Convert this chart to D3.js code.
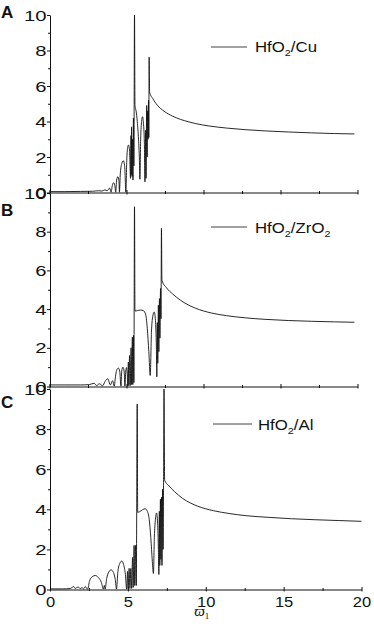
<!DOCTYPE html>
<html>
<head>
<meta charset="utf-8">
<script src="https://cdn.jsdelivr.net/npm/d3@7/dist/d3.min.js"></script>
<style>
  html, body { margin: 0; padding: 0; background: #fff; }
  svg { display: block; }
  text { font-family: "Liberation Sans", Arial, Helvetica, sans-serif; fill: #111; }
</style>
</head>
<body>
<svg id="chart" width="374" height="627"></svg>
<script>
// ---- data ----
const xTicks = [0, 5, 10, 15, 20];
const xMinorTicks = [2.5, 7.5, 12.5, 17.5];
const yTicks = [0, 2, 4, 6, 8, 10];
const yMinorTicks = [1, 3, 5, 7, 9];
const panelLetters = ["A", "B", "C"];
const legendNames = [["HfO", "2", "/Cu", ""], ["HfO", "2", "/ZrO", "2"], ["HfO", "2", "/Al", ""]];
const xAxisLabel = ["\u03D6", "1"];

const seriesA = [
  [0,0.05],[1,0.05],[2,0.06],[2.8,0.07],[3.2,0.1],[3.4,0.08],[3.6,0.15],[3.75,0.1],[3.9,0.25],[4.0,0.02],
  [4.08,0.4],[4.16,0.55],[4.24,0.4],[4.3,0.02],
  [4.36,0.7],[4.44,0.89],[4.51,0.65],[4.54,0.02],
  [4.6,1.1],[4.7,1.65],[4.79,1.79],[4.88,1.5],[4.96,0.02],
  [5.02,1.9],[5.08,2.55],[5.13,2.68],[5.2,2.3],[5.26,0.8],
  [5.29,3.2],[5.31,1.0],[5.33,3.7],[5.36,0.9],[5.39,3.0],[5.42,0.7],[5.45,4.2],[5.48,1.5],[5.52,10],[5.55,4.9],
  [5.62,4.6],[5.7,4.0],[5.78,3.0],[5.84,1.8],[5.87,0.75],
  [5.92,3.0],[5.98,4.0],[6.04,4.27],[6.1,3.9],[6.16,2.8],[6.2,0.6],
  [6.24,3.5],[6.27,0.8],[6.31,4.9],[6.34,2.0],[6.37,4.6],[6.4,3.0],[6.43,5.2],[6.45,3.1],[6.47,7.62],[6.5,5.65],
  [6.7,5.3],[7.0,4.92],[7.44,4.58],[8.0,4.3],[8.5,4.12],[9.0,3.99],[9.5,3.88],[10.35,3.75],
  [11.5,3.63],[12.7,3.54],[14.0,3.47],[15.5,3.41],[17.0,3.36],[18.5,3.32],[19.8,3.3]
];

const seriesB = [
  [0,0.08],[1,0.08],[2,0.08],[2.6,0.1],[2.9,0.17],[3.05,0.05],[3.24,0.14],[3.45,0.04],[3.6,0.25],[3.78,0.4],[3.95,0.08],[4.1,0.3],[4.2,0.02],
  [4.3,0.6],[4.38,0.88],[4.47,0.95],[4.56,0.8],[4.64,0.02],
  [4.69,0.8],[4.77,1.0],[4.85,0.75],[4.9,0.02],
  [4.95,0.8],[5.0,0.98],[5.05,0.6],[5.08,0.02],
  [5.12,1.26],[5.15,0.05],[5.2,1.6],[5.24,0.05],[5.3,2.0],[5.33,0.1],[5.38,2.55],[5.41,0.1],[5.45,2.64],[5.48,0.2],[5.52,9.29],[5.55,3.9],
  [5.7,3.92],[5.9,3.95],[6.1,3.92],[6.25,3.7],[6.35,3.0],[6.45,1.8],[6.54,0.57],
  [6.62,2.8],[6.7,3.6],[6.8,3.85],[6.88,3.4],[6.94,2.0],[6.97,0.5],
  [7.0,3.3],[7.03,1.2],[7.07,4.2],[7.1,1.8],[7.14,4.54],[7.17,2.5],[7.21,5.07],[7.24,3.5],[7.27,8.17],[7.3,5.49],
  [7.6,5.1],[8.0,4.78],[8.5,4.46],[9.0,4.22],[9.5,4.04],[10.5,3.8],[11.5,3.66],[12.7,3.55],
  [14.0,3.47],[15.5,3.41],[17.0,3.37],[18.5,3.34],[19.8,3.32]
];

const seriesC = [
  [0,0.03],[0.8,0.03],[1.3,0.05],[1.42,0.1],[1.51,0.15],[1.62,0.05],[1.72,0.1],[1.83,0.12],[1.94,0.04],[2.05,0.1],[2.15,0.03],[2.26,0.15],[2.35,0.05],[2.41,0.02],
  [2.55,0.45],[2.7,0.63],[2.91,0.7],[3.1,0.6],[3.3,0.35],[3.42,0.02],
  [3.49,0.2],[3.54,0.02],
  [3.64,0.55],[3.78,0.88],[3.92,0.98],[4.07,0.85],[4.19,0.5],[4.27,0.02],
  [4.36,0.9],[4.48,1.3],[4.6,1.42],[4.72,1.25],[4.84,0.75],[4.92,0.02],
  [4.98,0.9],[5.02,0.05],[5.08,1.05],[5.13,0.05],[5.19,1.05],[5.24,0.05],[5.3,1.6],[5.34,0.1],[5.4,2.2],[5.44,0.2],[5.5,2.2],[5.54,0.2],[5.6,9.25],[5.63,3.85],
  [5.75,3.88],[5.95,3.98],[6.1,4.03],[6.25,3.9],[6.37,3.5],[6.47,2.6],[6.57,1.4],[6.64,0.8],
  [6.7,2.6],[6.77,3.5],[6.84,3.82],[6.91,3.3],[6.96,2.0],[6.99,0.75],
  [7.02,3.9],[7.05,1.2],[7.09,4.5],[7.12,1.5],[7.16,4.6],[7.19,1.2],[7.23,5.0],[7.26,2.0],[7.29,5.2],[7.32,10],[7.36,5.45],
  [7.6,5.2],[8.0,4.88],[8.5,4.55],[9.0,4.32],[9.5,4.15],[10.5,3.93],[11.5,3.79],[12.6,3.68],
  [14.0,3.6],[15.5,3.53],[17.0,3.48],[18.5,3.44],[20.0,3.4]
];

const seriesList = [seriesA, seriesB, seriesC];

// ---- layout ----
const layout = [
  { top: 15,  bottom: 192.5, xr: [49.5, 357.5], letterY: 18,  lx: [211, 247], ly: 47,  tx: 255, tBase: 52 },
  { top: 193, bottom: 386.5, xr: [49.5, 357.5], letterY: 216, lx: [211, 247], ly: 227, tx: 255, tBase: 233 },
  { top: 389, bottom: 589.5, xr: [50, 361.5],   letterY: 408, lx: [213, 252], ly: 424, tx: 258, tBase: 430 }
];

const svg = d3.select("#chart");
const ink = "#111";

layout.forEach((L, i) => {
  const x = d3.scaleLinear().domain([0, 20]).range(L.xr);
  const y = d3.scaleLinear().domain([0, 10]).range([L.bottom, L.top]);
  const g = svg.append("g");
  const x0 = 50;

  // curve
  const line = d3.line().x(d => x(d[0])).y(d => y(d[1])).curve(d3.curveMonotoneX);
  g.append("path").datum(seriesList[i]).attr("d", line)
    .attr("fill", "none").attr("stroke", ink).attr("stroke-width", 0.9).attr("stroke-linejoin", "round");

  // left axis
  const ya = g.append("g").attr("transform", `translate(${x0},0)`)
    .call(d3.axisLeft(y).tickValues(yTicks).tickSize(3).tickSizeOuter(0).tickPadding(0.5));
  ya.select(".domain").attr("stroke", ink);
  ya.selectAll(".tick line").attr("stroke", ink);
  ya.selectAll(".tick text").each(function () {
    const t = d3.select(this);
    const tx = +t.attr("x");
    t.attr("x", 0).attr("dy", "0.36em").attr("transform", `translate(${tx},0) scale(1.45,1)`)
      .style("font-size", "14px").attr("fill", ink);
  });
  const yam = g.append("g").attr("transform", `translate(${x0},0)`)
    .call(d3.axisLeft(y).tickValues(yMinorTicks).tickSize(2).tickSizeOuter(0).tickFormat(() => ""));
  yam.select(".domain").remove();
  yam.selectAll(".tick line").attr("stroke", ink);

  // bottom axis
  const xa = g.append("g").attr("transform", `translate(0,${L.bottom})`)
    .call(d3.axisBottom(x).tickValues(xTicks).tickSize(2).tickSizeOuter(0).tickPadding(3)
      .tickFormat(i === 2 ? d3.format("d") : () => ""));
  xa.select(".domain").attr("stroke", ink);
  xa.selectAll(".tick line").attr("stroke", ink).attr("y1", -2.5).attr("y2", 2);
  xa.selectAll(".tick text").each(function () {
    const t = d3.select(this);
    t.attr("y", 0).attr("dy", 0).attr("transform", `translate(0,17.5) scale(1.1,1)`)
      .style("font-size", "15px").attr("fill", ink);
  });
  const xam = g.append("g").attr("transform", `translate(0,${L.bottom})`)
    .call(d3.axisBottom(x).tickValues(xMinorTicks).tickSize(1.5).tickSizeOuter(0).tickFormat(() => ""));
  xam.select(".domain").remove();
  xam.selectAll(".tick line").attr("stroke", ink).attr("y1", -1.5).attr("y2", 1.5);

  // panel letter
  g.append("text").attr("x", 1).attr("y", L.letterY).text(panelLetters[i])
    .style("font-size", "17px").style("font-weight", "bold");

  // legend
  g.append("line").attr("x1", L.lx[0]).attr("x2", L.lx[1]).attr("y1", L.ly).attr("y2", L.ly)
    .attr("stroke", ink).attr("stroke-width", 0.8);
  const parts = legendNames[i];
  const lt = g.append("text").attr("transform", `translate(${L.tx},${L.tBase}) scale(1.2,1)`)
    .style("font-size", "14px");
  lt.append("tspan").text(parts[0]);
  lt.append("tspan").text(parts[1]).attr("dy", 4).style("font-size", "9px");
  lt.append("tspan").text(parts[2]).attr("dy", -4).style("font-size", "14px");
  if (parts[3]) lt.append("tspan").text(parts[3]).attr("dy", 4).style("font-size", "9px");

  // x-axis title on bottom panel
  if (i === 2) {
    const xl = svg.append("text").attr("x", (L.xr[0] + L.xr[1]) / 2 - 4).attr("y", 616)
      .attr("text-anchor", "middle")
      .style("font-family", "'Liberation Serif', 'DejaVu Serif', serif")
      .style("font-style", "italic").style("font-size", "15px");
    xl.append("tspan").text(xAxisLabel[0]);
    xl.append("tspan").text(xAxisLabel[1]).attr("dy", 3).style("font-size", "9px").style("font-style", "normal");
  }
});
</script>
</body>
</html>
